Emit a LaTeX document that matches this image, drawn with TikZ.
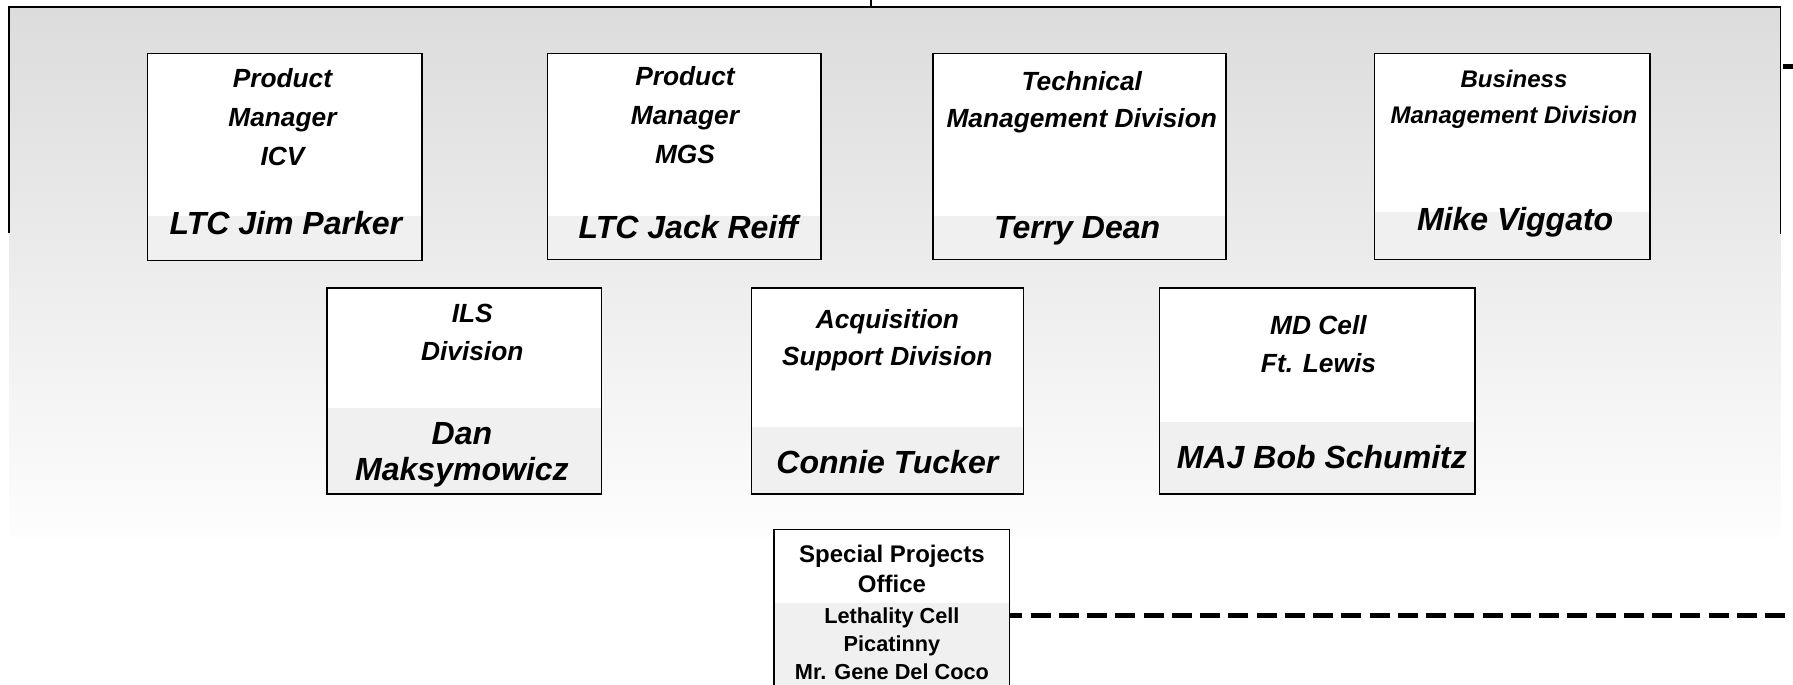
\documentclass[tikz,border=0pt]{standalone}
\usepackage{fontspec}
\setmainfont{Liberation Sans}
\definecolor{bandtop}{HTML}{DCDCDC}
\definecolor{bandbottom}{HTML}{FDFDFD}
\definecolor{namefill}{HTML}{F0F0F0}
\begin{document}
\begin{tikzpicture}[x=1pt, y=-1pt,
    unitbox/.style={draw=black, line width=1.3pt, fill=white, inner sep=0pt,
        path picture={\fill[namefill] (path picture bounding box.south west) rectangle ([yshift=#1]path picture bounding box.south east);}},
    office/.style={font=\fontsize{23}{34}\selectfont\bfseries\itshape, align=center, anchor=north, inner sep=0pt},
    person/.style={font=\fontsize{28}{32}\selectfont\bfseries\itshape, align=center, inner sep=0pt},
    bracket/.style={line width=1.6pt},
    link/.style={line width=4pt, dash pattern=on 17.5pt off 7.2pt, dash phase=7pt}]
            \clip (0,0) rectangle (1568,599);
            \shade[top color=bandtop, bottom color=bandbottom] (8,6) rectangle (1557,469);
            \coordinate (head) at (762,0);
            \coordinate (barmid) at (762,6);
            \coordinate (barleft) at (8,6);
            \coordinate (barright) at (1557,6);
            \coordinate (legleft) at (8,204);
            \coordinate (legright) at (1557,205);
            \draw[bracket] (head) -- (barmid);
            \draw[bracket] (legleft) -- (barleft) -- (barright) -- (legright);
            \coordinate (sidein) at (1559,58);
            \coordinate (sideout) at (1568,58);
            \draw[link, dash phase=0pt] (sidein) -- (sideout);
            \node[unitbox=39pt, minimum width=240pt, minimum height=181pt] (icv) at (249,137.5) {};
            \node[unitbox=38pt, minimum width=239pt, minimum height=180pt] (mgs) at (598.5,137) {};
            \node[unitbox=38pt, minimum width=256pt, minimum height=180pt] (tmd) at (944,137) {};
            \node[unitbox=42pt, minimum width=241pt, minimum height=180pt] (bmd) at (1322.5,137) {};
            \node[unitbox=75pt, minimum width=240pt, minimum height=180pt] (ils) at (406,342) {};
            \node[unitbox=59pt, minimum width=238pt, minimum height=180pt] (asd) at (776,342) {};
            \node[unitbox=63pt, minimum width=276pt, minimum height=180pt] (mdc) at (1152,342) {};
            \node[unitbox=113pt, minimum width=206pt, minimum height=177pt] (spo) at (780,551.5) {};
            \node[office] (icvT) at (247,60) {Product\\Manager\\ICV};
            \node[person, anchor=base] (icvN) at (250,205) {LTC Jim Parker};
            \node[office] (mgsT) at (599,58) {Product\\Manager\\MGS};
            \node[person, anchor=base] (mgsN) at (602,209) {LTC Jack Reiff};
            \node[office, font=\fontsize{23}{33}\selectfont\bfseries\itshape] (tmdT) at (946,62) {Technical\\Management Division};
            \node[person, anchor=base] (tmdN) at (942,209) {Terry Dean};
            \node[office, font=\fontsize{21}{31}\selectfont\bfseries\itshape] (bmdT) at (1324,61.5) {Business\\Management Division};
            \node[person, anchor=base] (bmdN) at (1325,202) {Mike Viggato};
            \node[office, font=\fontsize{23}{33}\selectfont\bfseries\itshape] (ilsT) at (413,266) {ILS\\Division};
            \node[person, anchor=north] (ilsN) at (404,369) {Dan\\Maksymowicz};
            \node[office, font=\fontsize{23}{33}\selectfont\bfseries\itshape] (asdT) at (776,270) {Acquisition\\Support Division};
            \node[person, anchor=base] (asdN) at (776,414) {Connie Tucker};
            \node[office, font=\fontsize{23}{33}\selectfont\bfseries\itshape] (mdcT) at (1153,276) {MD Cell\\Ft. Lewis};
            \node[person, anchor=base] (mdcN) at (1156,410) {MAJ Bob Schumitz};
            \node[office, font=\fontsize{21}{26}\selectfont\bfseries] (spoT) at (780,476.5) {Special Projects\\Office};
            \node[office, font=\fontsize{19}{24.5}\selectfont\bfseries] (spoN) at (780,531) {Lethality Cell\\Picatinny\\Mr. Gene Del Coco};
            \coordinate (linkout) at (1568,538.5);
            \draw[link] (spo.east |- linkout) -- (linkout);
        \end{tikzpicture}
\end{document}
